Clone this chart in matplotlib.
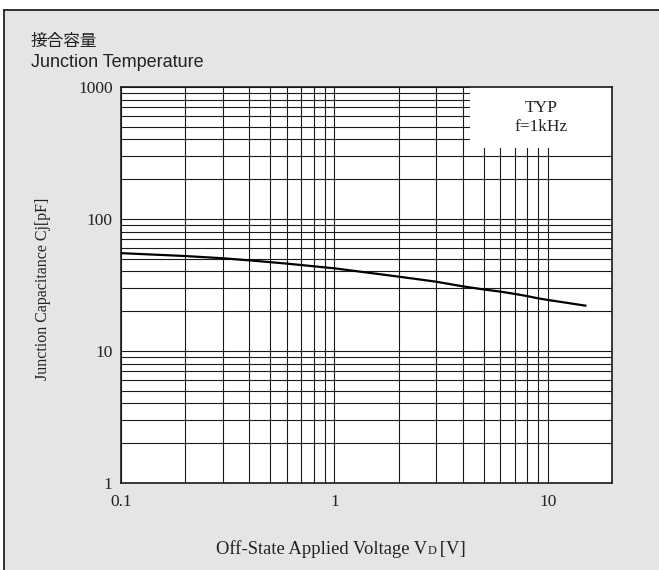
import matplotlib
matplotlib.use("Agg")
import matplotlib.pyplot as plt
from matplotlib.patches import Rectangle
from matplotlib.lines import Line2D
from matplotlib.offsetbox import TextArea, HPacker, AnnotationBbox

# data
voltage = [0.1, 0.2, 0.3, 0.4, 0.6, 1, 2, 3, 4, 5, 6, 7, 8, 9, 10, 15]
cap = [55, 52.3, 50.3, 48.5, 45.8, 42.2, 36.5, 33.4, 30.8, 29.2, 28.1, 27, 26, 25, 24.3, 22]

xticks = [0.1, 1, 10]
xticklabels = ["0.1", "1", "10"]
yticks = [1, 10, 100, 1000]
yticklabels = ["1", "10", "100", "1000"]

serif = "Liberation Serif"
W, H = 659, 570

fig = plt.figure(figsize=(W / 100, H / 100), dpi=100)
fig.patch.set_facecolor("white")

# grey panel with a border on top and left
fig.patches.append(Rectangle((4 / W, 0), 1, 1 - 10 / H, transform=fig.transFigure,
                             facecolor="#e5e5e5", edgecolor="none", zorder=-5))
fig.add_artist(Line2D([4 / W, 1], [1 - 10 / H, 1 - 10 / H], transform=fig.transFigure,
                      color="#222222", lw=1.3, zorder=-4))
fig.add_artist(Line2D([4 / W, 4 / W], [0, 1 - 10 / H], transform=fig.transFigure,
                      color="#222222", lw=1.3, zorder=-4))

ax = fig.add_axes([121 / W, 1 - 482.7 / H, 491 / W, 395.7 / H])
ax.set_xscale("log")
ax.set_yscale("log")
ax.set_xlim(0.1, 20)
ax.set_ylim(1, 1000)
ax.set_facecolor("white")

ax.grid(True, which="both", color="#1a1a1a", lw=0.8)
ax.set_xticks(xticks)
ax.set_xticklabels(xticklabels)
ax.set_yticks(yticks)
ax.set_yticklabels(yticklabels)
ax.tick_params(which="both", length=0)
ax.tick_params(axis="y", pad=6)
ax.tick_params(axis="x", pad=8)
for lab in ax.get_xticklabels() + ax.get_yticklabels():
    lab.set_family(serif)
    lab.set_fontsize(12.5)
    lab.set_color("#222222")
for s in ax.spines.values():
    s.set_color("#1a1a1a")
    s.set_linewidth(1.2)

# white box for the note in the upper right
ax.add_patch(Rectangle((0.711, 0.846), 0.289, 0.154, transform=ax.transAxes,
                       facecolor="white", edgecolor="none", zorder=2))
ax.text(0.855, 0.947, "TYP", transform=ax.transAxes, ha="center", va="center",
        family=serif, fontsize=12.5, color="#222222", zorder=4)
ax.text(0.855, 0.899, "f=1kHz", transform=ax.transAxes, ha="center", va="center",
        family=serif, fontsize=12.5, color="#222222", zorder=4)

ax.plot(voltage, cap, color="black", lw=1.6, zorder=3)

# titles
fig.text(31 / W, 1 - 41 / H, "接合容量", family=["Noto Sans CJK JP", "DejaVu Sans"],
         fontsize=12, va="center", ha="left", color="#222222")
fig.text(31 / W, 1 - 67 / H, "Junction Temperature", family="Liberation Sans",
         fontsize=13, va="baseline", ha="left", color="#222222")

fig.text(43 / W, 1 - 289 / H, "Junction Capacitance Cj[pF]", rotation=90,
         family=serif, fontsize=11.5, ha="center", va="center", color="#222222")

tp = dict(family=serif, size=13.4, color="#222222")
tps = dict(family=serif, size=8.8, color="#222222")
box = HPacker(children=[TextArea("Off-State Applied Voltage V", textprops=tp),
                        TextArea("D", textprops=tps),
                        TextArea("\u2009[V]", textprops=tp)],
              align="baseline", pad=0, sep=0)
ab = AnnotationBbox(box, (341 / W, 1 - 549 / H), xycoords="figure fraction",
                    frameon=False, box_alignment=(0.5, 0.5))
fig.add_artist(ab)

fig.savefig("out.png", dpi=100)
